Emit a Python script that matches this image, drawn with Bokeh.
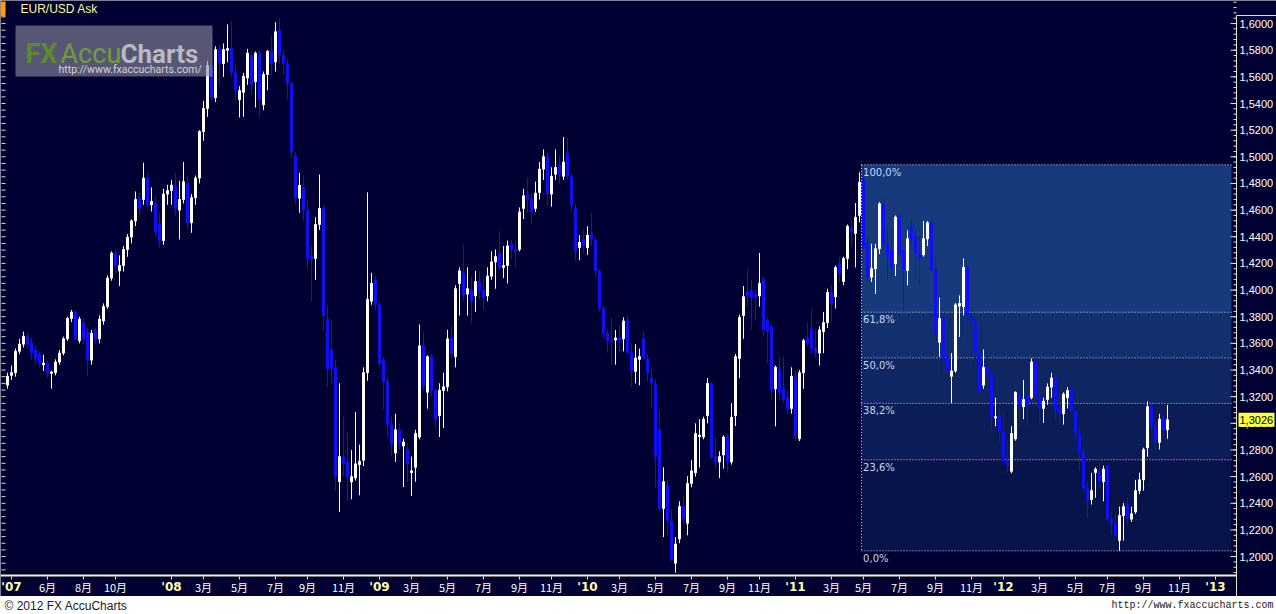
import numpy as np
import pandas as pd
from bokeh.plotting import figure
from bokeh.layouts import column
from bokeh.models import Range1d, ColumnDataSource
from bokeh.core.properties import value
from bokeh.embed import file_html
from bokeh.resources import INLINE

# ---------------------------------------------------------------------------
# Weekly EUR/USD (ask) candles, one bar per week, first bar = week of 26 Mar 2007
# ---------------------------------------------------------------------------
first_week = "2007-03-26"

opens = [
    1.3286, 1.3360, 1.3380, 1.3541, 1.3594, 1.3650, 1.3607, 1.3550, 1.3520, 1.3440,
    1.3447, 1.3375, 1.3380, 1.3460, 1.3527, 1.3634, 1.3787, 1.3835, 1.3620, 1.3755,
    1.3690, 1.3474, 1.3701, 1.3634, 1.3768, 1.3876, 1.4090, 1.4278, 1.4144, 1.4184,
    1.4304, 1.4398, 1.4519, 1.4693, 1.4680, 1.4840, 1.4640, 1.4653, 1.4500, 1.4372,
    1.4720, 1.4747, 1.4780, 1.4600, 1.4680, 1.4800, 1.4505, 1.4693, 1.4841, 1.5190,
    1.5363, 1.5685, 1.5444, 1.5805, 1.5700, 1.5800, 1.5812, 1.5630, 1.5430, 1.5484,
    1.5591, 1.5760, 1.5564, 1.5780, 1.5390, 1.5618, 1.5790, 1.5712, 1.5950, 1.5760,
    1.5700, 1.5551, 1.5010, 1.4690, 1.4773, 1.4600, 1.4260, 1.4237, 1.4492, 1.4613,
    1.3782, 1.3550, 1.3422, 1.2562, 1.2750, 1.2710, 1.2560, 1.2590, 1.2690, 1.2723,
    1.3380, 1.3916, 1.4077, 1.3889, 1.3474, 1.3313, 1.2991, 1.2777, 1.2951, 1.2830,
    1.2804, 1.2630, 1.2670, 1.2897, 1.3580, 1.3233, 1.3500, 1.3247, 1.3058, 1.3247,
    1.3274, 1.3640, 1.3500, 1.4050, 1.4130, 1.3970, 1.4000, 1.3956, 1.4064, 1.4000,
    1.3956, 1.4104, 1.4211, 1.4278, 1.4170, 1.4184, 1.4345, 1.4305, 1.4305, 1.4613,
    1.4715, 1.4680, 1.4613, 1.4733, 1.4908, 1.5000, 1.4720, 1.4870, 1.4934, 1.4854,
    1.5028, 1.4854, 1.4613, 1.4318, 1.4380, 1.4318, 1.4425, 1.4372, 1.4144, 1.3863,
    1.3675, 1.3620, 1.3625, 1.3640, 1.3634, 1.3768, 1.3530, 1.3390, 1.3480, 1.3634,
    1.3487, 1.3340, 1.3290, 1.2950, 1.2361, 1.2535, 1.2267, 1.1950, 1.2133, 1.2375,
    1.2250, 1.2549, 1.2629, 1.2900, 1.2897, 1.3058, 1.3299, 1.2750, 1.2710, 1.2763,
    1.2897, 1.2710, 1.3058, 1.3487, 1.3809, 1.3990, 1.3996, 1.3970, 1.3956, 1.4077,
    1.3770, 1.3728, 1.3259, 1.3407, 1.3260, 1.3192, 1.3112, 1.3350, 1.2884, 1.3380,
    1.3640, 1.3710, 1.3567, 1.3527, 1.3688, 1.3755, 1.3983, 1.3950, 1.4200, 1.4064,
    1.4237, 1.4465, 1.4425, 1.4559, 1.4834, 1.4347, 1.4097, 1.4160, 1.4310, 1.4647,
    1.4340, 1.4297, 1.4197, 1.4547, 1.4297, 1.4147, 1.4480, 1.4400, 1.4280, 1.4264,
    1.4385, 1.4505, 1.4157, 1.3608, 1.3787, 1.3500, 1.3353, 1.3393, 1.3880, 1.3876,
    1.4170, 1.3800, 1.3760, 1.3520, 1.3286, 1.3420, 1.3370, 1.3040, 1.3058, 1.2938,
    1.2720, 1.2640, 1.2884, 1.3210, 1.3125, 1.3200, 1.3192, 1.3460, 1.3200, 1.3112,
    1.3179, 1.3272, 1.3340, 1.3120, 1.3072, 1.3192, 1.3260, 1.3090, 1.2920, 1.2780,
    1.2510, 1.2428, 1.2630, 1.2640, 1.2562, 1.2683, 1.2281, 1.2250, 1.2120, 1.2308,
    1.2390, 1.2281, 1.2335, 1.2495, 1.2576, 1.2817, 1.3130, 1.2980, 1.2857, 1.3040,
    1.2951,
]

highs = [
    1.3380, 1.3433, 1.3560, 1.3634, 1.3688, 1.3680, 1.3640, 1.3580, 1.3540, 1.3514,
    1.3470, 1.3395, 1.3480, 1.3550, 1.3650, 1.3800, 1.3850, 1.3850, 1.3800, 1.3790,
    1.3720, 1.3700, 1.3720, 1.3810, 1.3900, 1.4110, 1.4290, 1.4300, 1.4260, 1.4330,
    1.4420, 1.4530, 1.4740, 1.4740, 1.4955, 1.4880, 1.4770, 1.4700, 1.4580, 1.4760,
    1.4790, 1.4827, 1.4880, 1.4820, 1.4960, 1.4860, 1.4720, 1.4860, 1.5200, 1.5420,
    1.5720, 1.5903, 1.5830, 1.5840, 1.5850, 1.5993, 1.6019, 1.5700, 1.5530, 1.5630,
    1.5810, 1.5790, 1.5790, 1.5800, 1.5640, 1.5800, 1.5910, 1.6010, 1.6038, 1.5800,
    1.5730, 1.5560, 1.5040, 1.4880, 1.4860, 1.4680, 1.4330, 1.4546, 1.4867, 1.4640,
    1.3880, 1.3780, 1.3480, 1.3300, 1.3050, 1.2930, 1.2800, 1.3085, 1.2840, 1.3420,
    1.4733, 1.4130, 1.4100, 1.3920, 1.3500, 1.3350, 1.3050, 1.3071, 1.3000, 1.2884,
    1.2850, 1.2750, 1.2951, 1.3742, 1.3680, 1.3510, 1.3520, 1.3260, 1.3300, 1.3380,
    1.3702, 1.3730, 1.4036, 1.4171, 1.4345, 1.4171, 1.4100, 1.4144, 1.4140, 1.4080,
    1.4171, 1.4291, 1.4305, 1.4445, 1.4331, 1.4371, 1.4380, 1.4370, 1.4620, 1.4760,
    1.4845, 1.4720, 1.4814, 1.4961, 1.5055, 1.5030, 1.4921, 1.5055, 1.5000, 1.5148,
    1.5140, 1.4880, 1.4650, 1.4412, 1.4450, 1.4479, 1.4580, 1.4400, 1.4160, 1.3880,
    1.3700, 1.3790, 1.3700, 1.3740, 1.3795, 1.3810, 1.3600, 1.3594, 1.3560, 1.3690,
    1.3520, 1.3420, 1.3330, 1.3094, 1.2670, 1.2580, 1.2350, 1.2147, 1.2415, 1.2460,
    1.2603, 1.2723, 1.3000, 1.3031, 1.3050, 1.3340, 1.3300, 1.2900, 1.2790, 1.2910,
    1.2920, 1.3152, 1.3520, 1.3815, 1.4030, 1.4160, 1.4077, 1.4000, 1.4278, 1.4100,
    1.3790, 1.3740, 1.3433, 1.3500, 1.3500, 1.3250, 1.3420, 1.3400, 1.3400, 1.3634,
    1.3760, 1.3860, 1.3700, 1.3728, 1.3836, 1.4010, 1.4040, 1.4184, 1.4250, 1.4251,
    1.4492, 1.4520, 1.4653, 1.4884, 1.4940, 1.4420, 1.4347, 1.4347, 1.4660, 1.4697,
    1.4460, 1.4450, 1.4559, 1.4580, 1.4300, 1.4447, 1.4535, 1.4450, 1.4400, 1.4519,
    1.4519, 1.4550, 1.4220, 1.3943, 1.3800, 1.3700, 1.3527, 1.3903, 1.3960, 1.4237,
    1.4190, 1.3870, 1.3800, 1.3560, 1.3554, 1.3550, 1.3390, 1.3192, 1.3120, 1.3080,
    1.2880, 1.2978, 1.3240, 1.3230, 1.3326, 1.3290, 1.3487, 1.3490, 1.3290, 1.3192,
    1.3299, 1.3380, 1.3380, 1.3210, 1.3232, 1.3272, 1.3280, 1.3110, 1.2970, 1.2820,
    1.2560, 1.2629, 1.2670, 1.2750, 1.2683, 1.2690, 1.2340, 1.2330, 1.2375, 1.2401,
    1.2440, 1.2375, 1.2576, 1.2629, 1.2817, 1.3165, 1.3170, 1.3020, 1.3071, 1.3060,
    1.3139,
]

lows = [
    1.3260, 1.3326, 1.3350, 1.3520, 1.3570, 1.3560, 1.3480, 1.3440, 1.3420, 1.3393,
    1.3340, 1.3260, 1.3360, 1.3440, 1.3510, 1.3620, 1.3760, 1.3620, 1.3600, 1.3590,
    1.3353, 1.3440, 1.3600, 1.3600, 1.3740, 1.3860, 1.4070, 1.4120, 1.4030, 1.4140,
    1.4250, 1.4350, 1.4480, 1.4560, 1.4640, 1.4620, 1.4590, 1.4400, 1.4320, 1.4340,
    1.4640, 1.4640, 1.4560, 1.4380, 1.4650, 1.4460, 1.4430, 1.4640, 1.4800, 1.5120,
    1.5300, 1.5420, 1.5410, 1.5530, 1.5600, 1.5710, 1.5600, 1.5420, 1.5296, 1.5300,
    1.5540, 1.5470, 1.5370, 1.5300, 1.5350, 1.5500, 1.5610, 1.5640, 1.5700, 1.5620,
    1.5430, 1.4990, 1.4650, 1.4580, 1.4520, 1.4170, 1.3916, 1.4077, 1.4452, 1.3701,
    1.3272, 1.3300, 1.2495, 1.2335, 1.2600, 1.2415, 1.2430, 1.2570, 1.2460, 1.2680,
    1.3320, 1.3890, 1.3850, 1.3420, 1.3100, 1.2900, 1.2760, 1.2710, 1.2800, 1.2522,
    1.2560, 1.2455, 1.2562, 1.2880, 1.3250, 1.3110, 1.3200, 1.2970, 1.2897, 1.2964,
    1.3240, 1.3480, 1.3420, 1.3809, 1.3916, 1.3809, 1.3750, 1.3836, 1.3930, 1.3850,
    1.3916, 1.4077, 1.4010, 1.4150, 1.4090, 1.4050, 1.4230, 1.4170, 1.4290, 1.4533,
    1.4580, 1.4493, 1.4586, 1.4680, 1.4827, 1.4630, 1.4626, 1.4827, 1.4800, 1.4827,
    1.4830, 1.4600, 1.4220, 1.4224, 1.4270, 1.4264, 1.4330, 1.4100, 1.3840, 1.3640,
    1.3530, 1.3440, 1.3440, 1.3530, 1.3540, 1.3520, 1.3270, 1.3300, 1.3286, 1.3470,
    1.3310, 1.3110, 1.2520, 1.2340, 1.2147, 1.2150, 1.1960, 1.1879, 1.2100, 1.2240,
    1.2160, 1.2520, 1.2600, 1.2669, 1.2880, 1.3000, 1.2730, 1.2660, 1.2589, 1.2660,
    1.2630, 1.2690, 1.2980, 1.3340, 1.3634, 1.3880, 1.3701, 1.3770, 1.3876, 1.3650,
    1.3450, 1.3180, 1.2977, 1.3170, 1.3150, 1.3070, 1.3072, 1.2870, 1.2867, 1.3259,
    1.3580, 1.3520, 1.3490, 1.3433, 1.3527, 1.3715, 1.3760, 1.3862, 1.4060, 1.4036,
    1.4157, 1.4330, 1.4170, 1.4509, 1.4300, 1.4070, 1.4060, 1.3972, 1.4270, 1.4300,
    1.4080, 1.4100, 1.4105, 1.4240, 1.3847, 1.4035, 1.4330, 1.4077, 1.4050, 1.4250,
    1.4330, 1.4140, 1.3650, 1.3500, 1.3360, 1.3360, 1.3152, 1.3380, 1.3648, 1.3810,
    1.3610, 1.3480, 1.3420, 1.3210, 1.3259, 1.3250, 1.2945, 1.2978, 1.2860, 1.2700,
    1.2625, 1.2625, 1.2870, 1.2980, 1.3031, 1.2975, 1.3180, 1.3190, 1.3000, 1.3004,
    1.3139, 1.3192, 1.3035, 1.3000, 1.2991, 1.3112, 1.3070, 1.2900, 1.2640, 1.2490,
    1.2290, 1.2390, 1.2442, 1.2520, 1.2415, 1.2270, 1.2160, 1.2150, 1.2043, 1.2120,
    1.2240, 1.2260, 1.2320, 1.2468, 1.2495, 1.2750, 1.2950, 1.2800, 1.2804, 1.2880,
    1.2884,
]

closes = [
    1.3353, 1.3380, 1.3541, 1.3594, 1.3653, 1.3594, 1.3527, 1.3487, 1.3447, 1.3452,
    1.3380, 1.3385, 1.3460, 1.3527, 1.3634, 1.3787, 1.3835, 1.3634, 1.3782, 1.3634,
    1.3474, 1.3675, 1.3634, 1.3782, 1.3876, 1.4090, 1.4278, 1.4184, 1.4184, 1.4304,
    1.4398, 1.4519, 1.4680, 1.4613, 1.4840, 1.4640, 1.4666, 1.4438, 1.4372, 1.4720,
    1.4747, 1.4787, 1.4610, 1.4680, 1.4813, 1.4505, 1.4693, 1.4841, 1.5190, 1.5363,
    1.5685, 1.5444, 1.5805, 1.5700, 1.5805, 1.5812, 1.5630, 1.5500, 1.5497, 1.5604,
    1.5778, 1.5540, 1.5778, 1.5430, 1.5618, 1.5792, 1.5700, 1.5939, 1.5760, 1.5700,
    1.5551, 1.5040, 1.4690, 1.4786, 1.4600, 1.4237, 1.4230, 1.4492, 1.4613, 1.3809,
    1.3406, 1.3410, 1.2603, 1.2750, 1.2700, 1.2600, 1.2600, 1.2696, 1.2715, 1.3380,
    1.3930, 1.4050, 1.3889, 1.3447, 1.3313, 1.2991, 1.2844, 1.2951, 1.2844, 1.2860,
    1.2696, 1.2643, 1.2924, 1.3581, 1.3280, 1.3500, 1.3247, 1.3031, 1.3247, 1.3274,
    1.3634, 1.3520, 1.4010, 1.4144, 1.3960, 1.4010, 1.3916, 1.4064, 1.3997, 1.3950,
    1.4104, 1.4211, 1.4251, 1.4170, 1.4184, 1.4331, 1.4305, 1.4290, 1.4586, 1.4707,
    1.4680, 1.4586, 1.4727, 1.4908, 1.5001, 1.4720, 1.4854, 1.4920, 1.4867, 1.4961,
    1.4854, 1.4640, 1.4291, 1.4358, 1.4330, 1.4412, 1.4385, 1.4144, 1.3863, 1.3675,
    1.3622, 1.3610, 1.3640, 1.3620, 1.3768, 1.3530, 1.3390, 1.3490, 1.3500, 1.3490,
    1.3380, 1.3299, 1.2750, 1.2361, 1.2562, 1.2267, 1.1973, 1.2093, 1.2375, 1.2280,
    1.2549, 1.2643, 1.2924, 1.2911, 1.3031, 1.3299, 1.2750, 1.2710, 1.2750, 1.2897,
    1.2710, 1.3045, 1.3500, 1.3795, 1.3950, 1.3960, 1.3943, 1.3943, 1.4050, 1.3701,
    1.3690, 1.3246, 1.3420, 1.3232, 1.3180, 1.3112, 1.3353, 1.2910, 1.3380, 1.3621,
    1.3600, 1.3560, 1.3527, 1.3701, 1.3755, 1.3983, 1.3900, 1.4170, 1.4120, 1.4237,
    1.4479, 1.4438, 1.4546, 1.4809, 1.4322, 1.4097, 1.4160, 1.4310, 1.4647, 1.4347,
    1.4250, 1.4172, 1.4547, 1.4272, 1.4160, 1.4385, 1.4375, 1.4280, 1.4240, 1.4385,
    1.4505, 1.4157, 1.3675, 1.3787, 1.3487, 1.3390, 1.3393, 1.3889, 1.3900, 1.4170,
    1.3809, 1.3760, 1.3520, 1.3240, 1.3420, 1.3370, 1.3045, 1.3050, 1.2938, 1.2710,
    1.2680, 1.2924, 1.3232, 1.3140, 1.3179, 1.3140, 1.3460, 1.3210, 1.3120, 1.3165,
    1.3272, 1.3340, 1.3100, 1.3075, 1.3219, 1.3246, 1.3090, 1.2920, 1.2780, 1.2510,
    1.2420, 1.2495, 1.2656, 1.2570, 1.2656, 1.2281, 1.2250, 1.2160, 1.2308, 1.2375,
    1.2290, 1.2321, 1.2495, 1.2576, 1.2804, 1.3125, 1.2980, 1.2860, 1.3031, 1.2950,
    1.3026,
]

symbol_title = "EUR/USD Ask"

# right-hand price scale
price_ticks = [round(1.20 + 0.02 * i, 2) for i in range(21)]
price_minor = [round(1.188 + 0.004 * i, 3) for i in range(108)]

# time axis: month starts that carry a label
axis_months = [
    "2007-04", "2007-06", "2007-08", "2007-10",
    "2008-01", "2008-03", "2008-05", "2008-07", "2008-09", "2008-11",
    "2009-01", "2009-03", "2009-05", "2009-07", "2009-09", "2009-11",
    "2010-01", "2010-03", "2010-05", "2010-07", "2010-09", "2010-11",
    "2011-01", "2011-03", "2011-05", "2011-07", "2011-09", "2011-11",
    "2012-01", "2012-03", "2012-05", "2012-07", "2012-09", "2012-11",
    "2013-01",
]
axis_labels = [
    "'07", "6月", "8月", "10月",
    "'08", "3月", "5月", "7月", "9月", "11月",
    "'09", "3月", "5月", "7月", "9月", "11月",
    "'10", "3月", "5月", "7月", "9月", "11月",
    "'11", "3月", "5月", "7月", "9月", "11月",
    "'12", "3月", "5月", "7月", "9月", "11月",
    "'13",
]

# Fibonacci retracement drawn from the May-2011 top to the July-2012 bottom
fib_high_bar = 214
fib_low_bar = 278
fib_levels = [1.0, 0.618, 0.5, 0.382, 0.236, 0.0]
fib_texts = ["100,0%", "61,8%", "50,0%", "38,2%", "23,6%", "0,0%"]
fib_fills = ["#173a7c", "#13306e", "#0f2662", "#0b1c56", "#071349"]

# ---------------------------------------------------------------------------
# geometry / styling
# ---------------------------------------------------------------------------
BG = "#000033"
UP_COLOR = "#ffffff"
DOWN_COLOR = "#1010f4"
SCALE_COLOR = "#e6e6c8"
PAGE_W, MAIN_H, FOOT_H = 1276, 596, 18
CHART_W, CHART_H = 1234, 573      # price pane (left of the scale, above the time strip)
BAR_PX = 4.0                      # horizontal pixels per weekly bar
BAR0_PX = 7.0                     # pixel centre of the first bar
Y_MAX = 1.6173                    # price at the top edge
PX_PER_UNIT = 573 / 0.43          # vertical pixels per 1.0 of price

X_START = -BAR0_PX / BAR_PX
X_END = X_START + PAGE_W / BAR_PX
Y_BOTTOM = Y_MAX - MAIN_H / PX_PER_UNIT


def xd(px):
    """pixel column -> bar coordinate"""
    return X_START + px / BAR_PX


def yd(py):
    """pixel row (from top) -> price coordinate"""
    return Y_MAX - py / PX_PER_UNIT


n_bars = len(closes)
start = pd.Timestamp(first_week)


def bar_of_month(ym):
    first_day = pd.Timestamp(ym + "-01")
    return int(np.ceil((first_day - start).days / 7.0))


tick_pos = [bar_of_month(m) for m in axis_months]

p = figure(
    width=PAGE_W, height=MAIN_H,
    x_range=Range1d(X_START, X_END), y_range=Range1d(Y_BOTTOM, Y_MAX),
    output_backend="svg", toolbar_location=None, min_border=0,
    background_fill_color=BG, border_fill_color=BG, outline_line_color=None,
)
p.grid.visible = False
p.axis.visible = False

pane_right = xd(CHART_W)
pane_bottom = yd(CHART_H)

# --- Fibonacci retracement box ------------------------------------------------
fib_hi = highs[fib_high_bar]
fib_lo = lows[fib_low_bar]
fib_prices = [fib_lo + lv * (fib_hi - fib_lo) for lv in fib_levels]
box_left = fib_high_bar - 0.5
box_right = xd(1231)

p.quad(left=[box_left] * 5, right=[box_right] * 5,
       top=fib_prices[:-1], bottom=fib_prices[1:],
       fill_color=fib_fills, line_color=None)
p.segment(x0=[box_left] * 6, x1=[box_right] * 6, y0=fib_prices, y1=fib_prices,
          line_color="#dcdcff", line_width=1, line_dash="1 2")
p.segment(x0=[box_left], x1=[box_left], y0=[fib_prices[0]], y1=[fib_prices[-1]],
          line_color="#dcdcff", line_width=1, line_dash="1 2")
p.text(x=[box_left + 0.4] * 6, y=fib_prices, text=fib_texts, y_offset=2,
       text_baseline="top", text_align="left", text_color="#c4d8f4",
       text_font=value("DejaVu Sans"), text_font_size="10px")

# --- faint scale marks along the left edge -----------------------------------
left_marks = [round(1.190 + 0.005 * i, 3) for i in range(86)]
p.segment(x0=[xd(1)] * len(left_marks), x1=[xd(5)] * len(left_marks),
          y0=left_marks, y1=left_marks, line_color="#d8d8d8", line_width=1)

# --- candles ----------------------------------------------------------------
rows = list(zip(range(n_bars), opens, highs, lows, closes))
up_rows = [r for r in rows if r[4] >= r[1]]
dn_rows = [r for r in rows if r[4] < r[1]]


def candle_source(rs):
    return ColumnDataSource(dict(
        x=[r[0] for r in rs],
        high=[r[2] for r in rs],
        low=[r[3] for r in rs],
        top=[max(r[1], r[4]) for r in rs],
        bottom=[min(r[1], r[4]) for r in rs],
    ))


for rs, col in ((dn_rows, DOWN_COLOR), (up_rows, UP_COLOR)):
    src = candle_source(rs)
    p.segment(x0="x", x1="x", y0="low", y1="high", source=src,
              line_color=col, line_width=1)
    p.vbar(x="x", width=0.5, top="top", bottom="bottom", source=src,
           fill_color=col, line_color=col, line_width=1)

# --- watermark logo -----------------------------------------------------------
p.quad(left=[xd(15)], right=[xd(212)], top=[yd(25)], bottom=[yd(76)],
       fill_color="#8c8c9e", fill_alpha=0.62, line_color=None)
p.text(x=[xd(25)], y=[yd(53)], text=["FX"], text_color="#5b8b2b",
       text_font=value("Roboto"), text_font_style="bold", text_font_size="27px",
       text_baseline="alphabetic")
p.text(x=[xd(60)], y=[yd(53)], text=["Accu"], text_color="#6f9d37",
       text_font=value("Roboto"), text_font_size="27px", text_baseline="alphabetic")
p.text(x=[xd(120)], y=[yd(53)], text=["Charts"], text_color="#b9b9c2",
       text_font=value("Roboto"), text_font_style="bold", text_font_size="26px",
       text_baseline="alphabetic")
p.text(x=[xd(58)], y=[yd(69)], text=["http://www.fxaccucharts.com/"],
       text_color="#d2d2da", text_font=value("Roboto"), text_font_size="10.5px",
       text_baseline="alphabetic")

# --- symbol caption -----------------------------------------------------------
p.quad(left=[xd(0)], right=[xd(5)], top=[yd(1)], bottom=[yd(16)],
       fill_color="#ff9c00", line_color=None)
p.text(x=[xd(20)], y=[yd(8)], text=[symbol_title], text_color="#ffff88",
       text_font=value("Liberation Sans"), text_font_size="12px",
       text_baseline="middle")

# --- price scale on the right ---------------------------------------------------
axis_x = xd(1236)
p.segment(x0=[axis_x], x1=[axis_x], y0=[yd(15)], y1=[Y_BOTTOM],
          line_color=SCALE_COLOR, line_width=1)
p.segment(x0=[axis_x], x1=[X_END], y0=[yd(15)], y1=[yd(15)],
          line_color=SCALE_COLOR, line_width=1)
p.segment(x0=[xd(1233)] * len(price_minor), x1=[axis_x] * len(price_minor),
          y0=price_minor, y1=price_minor, line_color=SCALE_COLOR, line_width=1)
p.segment(x0=[xd(1230)] * len(price_ticks), x1=[axis_x] * len(price_ticks),
          y0=price_ticks, y1=price_ticks, line_color=SCALE_COLOR, line_width=1)
p.text(x=[xd(1239)] * len(price_ticks), y=price_ticks,
       text=[f"{t:.4f}".replace(".", ",") for t in price_ticks],
       text_baseline="middle", text_align="left", text_color="#ffffff",
       text_font=value("Liberation Sans"), text_font_size="11px")

# last price marker
last_close = closes[-1]
p.quad(left=[xd(1238)], right=[xd(1274)],
       top=[last_close + 7 / PX_PER_UNIT], bottom=[last_close - 7 / PX_PER_UNIT],
       fill_color="#ffff3c", line_color=None)
p.text(x=[xd(1239)], y=[last_close], text=[f"{last_close:.4f}".replace(".", ",")],
       text_baseline="middle", text_align="left", text_color="#000000",
       text_font=value("Liberation Sans"), text_font_size="11px")

# --- time strip below the price pane -----------------------------------------
p.segment(x0=[X_START], x1=[axis_x], y0=[yd(575)], y1=[yd(575)],
          line_color="#f0f0c8", line_width=2)
p.segment(x0=tick_pos, x1=tick_pos, y0=[yd(576)] * len(tick_pos),
          y1=[yd(579)] * len(tick_pos), line_color="#f0f0c8", line_width=1)
month_pos = [t for t, lab in zip(tick_pos, axis_labels) if not lab.startswith("'")]
month_lab = [lab for lab in axis_labels if not lab.startswith("'")]
year_pos = [t for t, lab in zip(tick_pos, axis_labels) if lab.startswith("'")]
year_lab = [lab for lab in axis_labels if lab.startswith("'")]
p.text(x=month_pos, y=[yd(586)] * len(month_pos), text=month_lab,
       text_align="center", text_baseline="middle", text_color="#ffffff",
       text_font=value("Noto Sans CJK SC"), text_font_size="11px")
p.text(x=year_pos, y=[yd(586)] * len(year_pos), text=year_lab,
       text_align="center", text_baseline="middle", text_color="#ffffa8",
       text_font=value("DejaVu Sans"), text_font_style="bold", text_font_size="12px")

# --- footer strip ---------------------------------------------------------------
foot = figure(
    width=PAGE_W, height=FOOT_H, x_range=Range1d(0, PAGE_W), y_range=Range1d(0, FOOT_H),
    output_backend="svg", toolbar_location=None, min_border=0,
    background_fill_color="#ffffff", border_fill_color="#ffffff", outline_line_color=None,
)
foot.axis.visible = False
foot.grid.visible = False
foot.text(x=[4], y=[9], text=["© 2012 FX AccuCharts"], text_baseline="middle",
          text_color="#202020", text_font=value("Liberation Sans"), text_font_size="12px")
foot.text(x=[1273], y=[9], text=["http://www.fxaccucharts.com"], text_baseline="middle",
          text_align="right", text_color="#202020",
          text_font=value("Liberation Mono"), text_font_size="10px")

layout = column(p, foot, spacing=0)
open("out.html", "w").write(file_html(layout, INLINE))
